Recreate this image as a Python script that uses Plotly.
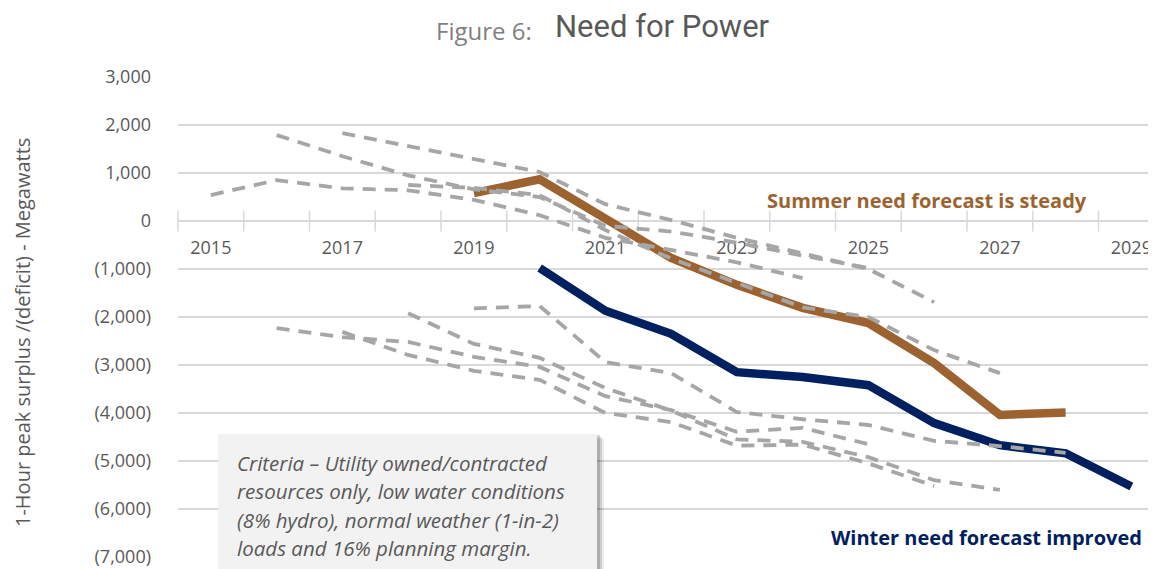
import plotly.graph_objects as go

# ---------------- data ----------------
label_years = [2015, 2017, 2019, 2021, 2023, 2025, 2027, 2029]
tick_bounds = [y + 0.5 for y in range(2014, 2030)]

summer_years = list(range(2019, 2029))
summer_now = [580, 870, 50, -770, -1330, -1810, -2125, -2960, -4040, -3990]

winter_years = list(range(2020, 2030))
winter_now = [-980, -1870, -2350, -3150, -3250, -3420, -4210, -4670, -4840, -5530]

# earlier summer forecasts (grey dashed)
s_prior_a_years = list(range(2015, 2025))
s_prior_a = [540, 850, 680, 640, 440, 120, -350, -600, -860, -1190]
s_prior_b_years = list(range(2016, 2026))
s_prior_b = [1790, 1350, 950, 660, 500, -100, -220, -450, -720, -980]
s_prior_c_years = list(range(2017, 2027))
s_prior_c = [1830, 1560, 1290, 1020, 350, 20, -350, -680, -1000, -1690]
s_prior_d_years = list(range(2018, 2028))
s_prior_d = [750, 690, 540, -190, -780, -1300, -1800, -2000, -2690, -3170]

# earlier winter forecasts (grey dashed)
w_prior_a_years = list(range(2016, 2026))
w_prior_a = [-2230, -2420, -2520, -2830, -3040, -3650, -3940, -4390, -4310, -4650]
w_prior_b_years = list(range(2017, 2027))
w_prior_b = [-2310, -2790, -3120, -3310, -4000, -4190, -4680, -4660, -5050, -5520]
w_prior_c_years = list(range(2018, 2028))
w_prior_c = [-1920, -2560, -2850, -3480, -3950, -4550, -4600, -4920, -5400, -5600]
w_prior_d_years = list(range(2019, 2029))
w_prior_d = [-1820, -1770, -2940, -3170, -3980, -4130, -4250, -4580, -4690, -4830]

y_ticks = [3000, 2000, 1000, 0, -1000, -2000, -3000, -4000, -5000, -6000, -7000]

criteria_lines = [
    "Criteria – Utility owned/contracted",
    "resources only, low water conditions",
    "(8% hydro), normal weather (1-in-2)",
    "loads and 16% planning margin.",
]


def fmt(v):
    return f"{v:,}" if v >= 0 else f"({-v:,})"


y_ticktext = [fmt(v) for v in y_ticks]

# ---------------- layout geometry ----------------
# the html page puts the figure 8px in from the top-left corner of the window
OFF = 8
SCR_W, SCR_H = 1156, 569
W, H = SCR_W - OFF, SCR_H - OFF
ML, MR, MT, MB = 178 - OFF, 0, 77 - OFF, 12
PW, PH = W - ML - MR, H - MT - MB
YEAR_PX = 65.75
x_range = [2014.5, 2014.5 + PW / YEAR_PX]


def px_x(p):  # screen pixel -> paper x
    return (p - OFF - ML) / PW


def px_y(p):  # screen pixel -> paper y
    return (H - MB - (p - OFF)) / PH


GRID = "#d9d9d9"
TXT = "#595959"
GREY = "#a6a6a6"
BROWN = "#9c6331"
NAVY = "#002060"
FONT = "Open Sans, Calibri, Carlito, sans-serif"

fig = go.Figure()

# category tick marks crossing the zero line
fig.add_trace(go.Scatter(
    x=tick_bounds, y=[0] * len(tick_bounds), mode="markers",
    marker=dict(symbol="line-ns", size=15, line=dict(color=GRID, width=1.5)),
    hoverinfo="skip", cliponaxis=False))

# year labels below the zero line
fig.add_trace(go.Scatter(
    x=label_years, y=[-600] * len(label_years), mode="text",
    text=[str(y) for y in label_years],
    textfont=dict(family=FONT, size=18, color=TXT), hoverinfo="skip", cliponaxis=False))

fig.add_trace(go.Scatter(x=summer_years, y=summer_now, mode="lines",
                         line=dict(color=BROWN, width=8.5), hoverinfo="skip"))
fig.add_trace(go.Scatter(x=winter_years, y=winter_now, mode="lines",
                         line=dict(color=NAVY, width=8.5), hoverinfo="skip"))

priors = [
    (s_prior_a_years, s_prior_a), (s_prior_b_years, s_prior_b),
    (s_prior_c_years, s_prior_c), (s_prior_d_years, s_prior_d),
    (w_prior_a_years, w_prior_a), (w_prior_b_years, w_prior_b),
    (w_prior_c_years, w_prior_c), (w_prior_d_years, w_prior_d),
]
for xs, ys in priors:
    fig.add_trace(go.Scatter(x=xs, y=ys, mode="lines",
                             line=dict(color=GREY, width=3.8, dash="13px,9px"),
                             hoverinfo="skip"))

shapes = []
# soft shadow for the criteria box
for off, op in [(7, 0.08), (5, 0.12), (3, 0.16)]:
    shapes.append(dict(type="rect", xref="paper", yref="paper", layer="above",
                       x0=px_x(218 + off - 2), x1=px_x(597 + off), y0=px_y(SCR_H + 20), y1=px_y(434 + off - 2),
                       fillcolor=f"rgba(0,0,0,{op})", line=dict(width=0)))
shapes.append(dict(type="rect", xref="paper", yref="paper", layer="above",
                   x0=px_x(218), x1=px_x(597), y0=px_y(SCR_H + 20), y1=px_y(434),
                   fillcolor="#f2f2f2", line=dict(width=0)))

annotations = [
    dict(text="Figure 6:", xref="paper", yref="paper", x=px_x(484), y=px_y(30),
         showarrow=False, font=dict(family=FONT, size=24, color="#7f7f7f"),
         xanchor="center", yanchor="middle"),
    dict(text="Need for Power", xref="paper", yref="paper", x=px_x(662), y=px_y(26),
         showarrow=False, font=dict(family="Liberation Sans Narrow, Roboto, sans-serif", size=31, color=TXT),
         xanchor="center", yanchor="middle"),
    dict(text="1-Hour peak surplus /(deficit) - Megawatts", xref="paper", yref="paper",
         x=px_x(22), y=px_y(333), textangle=-90, showarrow=False,
         font=dict(family=FONT, size=20, color=TXT), xanchor="center", yanchor="middle"),
    dict(text="<b>Summer need forecast is steady</b>", xref="x", yref="y",
         x=2025.89, y=437, showarrow=False,
         font=dict(family=FONT, size=20, color=BROWN), xanchor="center", yanchor="middle"),
    dict(text="<b>Winter need forecast improved</b>", xref="x", yref="y",
         x=2026.79, y=-6604, showarrow=False,
         font=dict(family=FONT, size=20, color=NAVY), xanchor="center", yanchor="middle"),
]
for i, line in enumerate(criteria_lines):
    annotations.append(dict(
        text=f"<i>{line}</i>", xref="paper", yref="paper",
        x=px_x(235), y=px_y(463 + i * 28.4), showarrow=False,
        align="left", xanchor="left", yanchor="middle",
        font=dict(family=FONT, size=20.5, color=TXT)))

fig.update_layout(
    width=W, height=H, autosize=False,
    margin=dict(l=ML, r=MR, t=MT, b=MB, pad=0),
    paper_bgcolor="white", plot_bgcolor="white",
    showlegend=False,
    shapes=shapes, annotations=annotations,
    xaxis=dict(range=x_range, showgrid=False, zeroline=False, showticklabels=False,
               showline=False, ticks="", fixedrange=True),
    yaxis=dict(range=[-7000, 3000], tickvals=y_ticks, ticktext=y_ticktext,
               showgrid=True, gridcolor=GRID, gridwidth=1.5,
               zeroline=True, zerolinecolor=GRID, zerolinewidth=1.5,
               showline=False, ticks="", ticklabelstandoff=26,
               tickfont=dict(family=FONT, size=18, color=TXT), fixedrange=True),
)

fig.write_html("out.html")
